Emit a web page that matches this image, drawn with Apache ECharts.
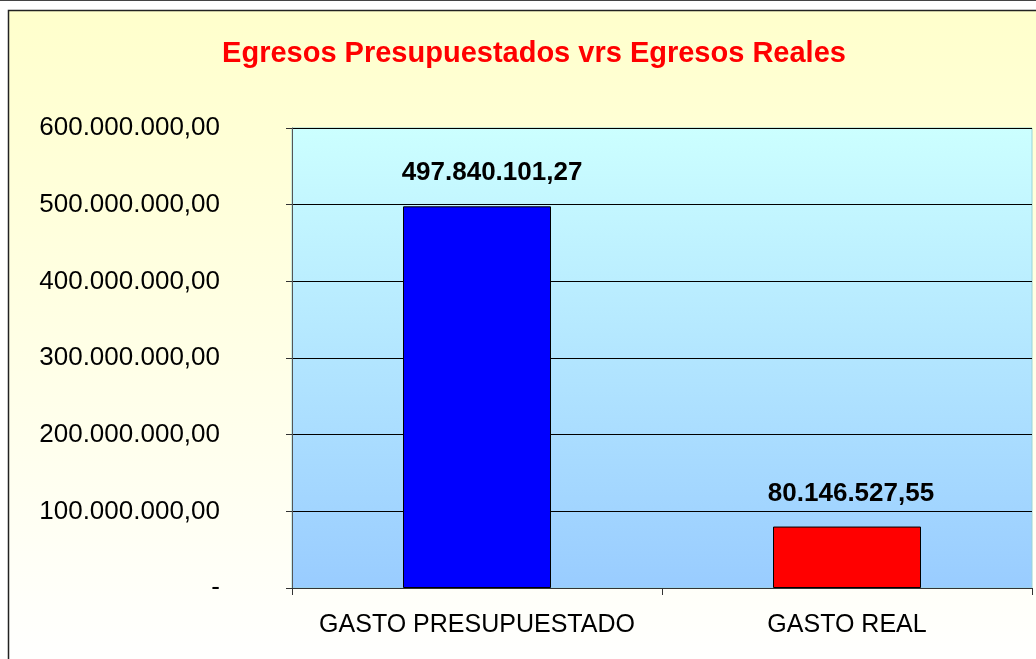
<!DOCTYPE html>
<html><head><meta charset="utf-8">
<script src="https://cdn.jsdelivr.net/npm/echarts@6/dist/echarts.min.js"></script>
<style>html,body{margin:0;padding:0;background:#fff;}#c{width:1036px;height:659px;}</style>
</head><body><div id="c"></div>
<script>
const categories = ['GASTO PRESUPUESTADO', 'GASTO REAL'];
const values = [497840101.27, 80146527.55];
const barColors = ['#0000FF', '#FF0000'];
const yTicks = [0, 100000000, 200000000, 300000000, 400000000, 500000000, 600000000];
const titleText = 'Egresos Presupuestados vrs Egresos Reales';

function fmt(v) {
  if (v === 0) return '-';
  const parts = v.toFixed(2).split('.');
  const intPart = parts[0].replace(/\B(?=(\d{3})+(?!\d))/g, '.');
  return intPart + ',' + parts[1];
}

const chart = echarts.init(document.getElementById('c'), null, {renderer: 'canvas'});
const FONT = '"Liberation Sans", Arial, sans-serif';
const labelOffsets = [[15, 0], [4, 0]];
chart.setOption({
  animation: false,
  backgroundColor: '#ffffff',
  graphic: [
    {type: 'line', shape: {x1: 0, y1: 0.5, x2: 1036, y2: 0.5}, style: {stroke: '#444', lineWidth: 1}, z: -10},
    {type: 'rect', shape: {x: 8.5, y: 10.5, width: 1040, height: 660},
      style: {fill: new echarts.graphic.LinearGradient(0, 0, 0, 1, [
        {offset: 0, color: '#FFFFCC'}, {offset: 1, color: '#FFFFFF'}]),
        stroke: '#222', lineWidth: 1.5}, z: -10},
    {type: 'rect', shape: {x: 292, y: 128, width: 740, height: 460},
      style: {fill: new echarts.graphic.LinearGradient(0, 0, 0, 1, [
        {offset: 0, color: '#CCFFFF'}, {offset: 1, color: '#99CCFF'}]),
        stroke: '#99D4D9', lineWidth: 1}, z: -9}
  ],
  title: {
    text: titleText, left: 529, top: 34, textAlign: 'center',
    textStyle: {color: '#FF0000', fontSize: 29, fontWeight: 'bold', fontFamily: FONT}
  },
  grid: {left: 292, right: 4, top: 128, bottom: 71, containLabel: false},
  xAxis: {
    type: 'category', data: categories,
    axisLine: {show: true, lineStyle: {color: '#333', width: 1}},
    axisTick: {show: true, length: 7, lineStyle: {color: '#333'}},
    axisLabel: {color: '#000', fontSize: 25, fontFamily: FONT, margin: 25, interval: 0, hideOverlap: false},
    splitLine: {show: false}
  },
  yAxis: {
    type: 'value', min: 0, max: 600000000, interval: 100000000,
    axisLine: {show: true, lineStyle: {color: '#555', width: 1}},
    axisTick: {show: true, length: 6, lineStyle: {color: '#333'}},
    axisLabel: {color: '#000', fontSize: 26, fontFamily: FONT, margin: 72, formatter: fmt},
    splitLine: {show: true, lineStyle: {color: '#000', width: 1}}
  },
  series: [{
    type: 'bar', barWidth: '40%',
    data: values.map((v, i) => ({value: v, itemStyle: {color: barColors[i]}, label: {offset: labelOffsets[i]}})),
    itemStyle: {borderColor: '#000', borderWidth: 1},
    label: {show: true, position: 'top', distance: 20, color: '#000', fontSize: 26,
      fontWeight: 'bold', fontFamily: FONT, formatter: p => fmt(p.value)}
  }]
});
</script></body></html>
